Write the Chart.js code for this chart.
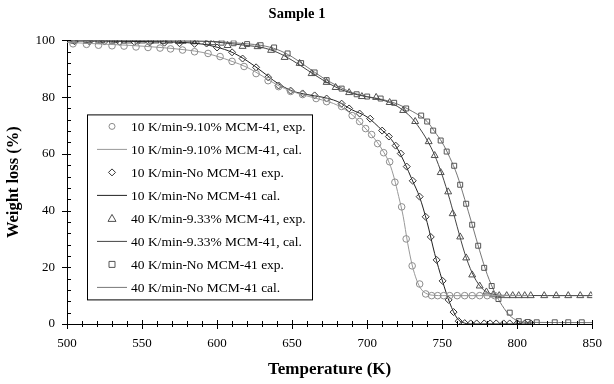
<!DOCTYPE html>
<html>
<head>
<meta charset="utf-8">
<script src="https://cdn.jsdelivr.net/npm/chart.js"></script>
<style>
  html, body { margin: 0; padding: 0; background: #fff; }
  #wrap { width: 614px; height: 384px; }
</style>
</head>
<body>
<div id="wrap"><canvas id="tgaChart"></canvas></div>

<script>
    // tick labels / axis ranges
    const xTicks = [500, 550, 600, 650, 700, 750, 800, 850];
    const yTicks = [0, 20, 40, 60, 80, 100];

    // series labels
    const seriesLabels = [
        '10 K/min-9.10% MCM-41, exp.',
        '10 K/min-9.10% MCM-41, cal.',
        '10 K/min-No MCM-41 exp.',
        '10 K/min-No MCM-41 cal.',
        '40 K/min-9.33% MCM-41, exp.',
        '40 K/min-9.33% MCM-41, cal.',
        '40 K/min-No MCM-41 exp.',
        '40 K/min-No MCM-41 cal.'
    ];

    // 10 K/min, 9.10% MCM-41 (circles)
    const exp1T = [504, 513, 521, 530, 538, 546, 554, 562, 569, 577, 585, 594, 602, 610, 618, 626, 634, 641, 649, 657, 666, 673, 683, 690, 695, 699, 703, 707, 711, 715, 718.5, 723, 726, 730, 735, 739, 743, 747, 751, 755, 760, 765, 770, 775, 780, 785];
    const exp1W = [98.8, 98.6, 98.3, 98.1, 98, 97.7, 97.5, 97.3, 97, 96.6, 96, 95.4, 94.3, 92.6, 90.8, 88.3, 85.8, 83.7, 82, 80.9, 79.5, 78.4, 76.7, 73.5, 71.4, 68.9, 66.8, 63.6, 60.4, 57.2, 50, 41.3, 30, 20.5, 14.1, 10.6, 10, 10, 10, 10, 10, 10, 10, 10, 10, 10];
    const cal1T = [500, 520, 540, 560, 580, 590, 600, 610, 620, 630, 640, 650, 660, 670, 680, 690, 700, 705, 710, 715, 718, 721, 724, 727, 730, 733, 736, 740, 745, 750, 810];
    const cal1W = [99.3, 98.8, 98.3, 97.6, 96.6, 95.8, 94.4, 92.6, 90.5, 87.5, 84.3, 82.0, 80.4, 79.0, 77.2, 73.8, 68.3, 65.3, 61.5, 56.5, 51.5, 45, 38, 28.5, 20.8, 15.5, 12.3, 10.6, 10.1, 10, 10];

    // 10 K/min, no MCM-41 (diamonds)
    const exp2T = [505, 515, 525, 535, 545, 555, 565, 575, 585, 593, 600, 610, 617, 626, 634, 641, 649, 657, 665, 673, 683, 688, 695, 702, 710, 714.5, 719, 722.4, 726.4, 730.4, 735, 739, 742.4, 746.3, 750.3, 754.3, 757.6, 761, 765, 769, 773, 778, 782, 786, 791, 795, 800, 805, 809];
    const exp2W = [99.7, 99.6, 99.6, 99.5, 99.4, 99.3, 99.2, 99, 98.8, 98.9, 97.5, 95.8, 93.6, 90.5, 87, 84.1, 82.3, 81.3, 80.6, 79.5, 77.7, 76, 74.2, 72.4, 68.2, 66.1, 62.9, 60.1, 55.5, 50.5, 44.9, 37.8, 30.7, 22.6, 15.2, 8.5, 4.2, 1, 0.3, 0.2, 0.2, 0.2, 0.2, 0.2, 0.2, 0.2, 0.2, 0.2, 0.2];
    const cal2T = [500, 550, 580, 590, 600, 610, 620, 630, 640, 650, 660, 670, 680, 690, 700, 710, 715, 720, 725, 730, 735, 740, 745, 750, 755, 760, 765, 770, 810];
    const cal2W = [99.8, 99.6, 99.2, 98.7, 97.6, 95.8, 92.8, 89, 85, 82.2, 80.9, 80, 78.5, 75.5, 73, 68.3, 65.8, 62, 56.8, 50.8, 44.7, 35.8, 24.8, 15.5, 7.5, 2, 0.3, 0, 0];

    // 40 K/min, 9.33% MCM-41 (triangles)
    const exp3T = [505, 514, 523, 532, 541, 550, 559, 568, 577, 586, 597, 607, 617, 627, 636, 645, 655, 663, 673, 679, 688, 696.5, 706, 715, 724, 732, 741, 745, 749, 754, 757, 762, 766, 770, 775, 779.5, 784, 788, 793, 797, 801, 805, 809, 818, 826, 834, 842, 849];
    const exp3W = [99.9, 99.9, 99.9, 99.9, 99.8, 99.8, 99.8, 99.8, 99.7, 99.6, 99.2, 98.2, 97.9, 97.8, 96.5, 94, 91.9, 88.3, 85.2, 83.4, 81.6, 80.2, 79.9, 78.1, 75.3, 71.4, 64.3, 59.4, 53.4, 46.6, 38.9, 30.7, 23.3, 17.3, 13.4, 11.3, 10.3, 10, 10, 10, 10, 10, 10, 10, 10, 10, 10, 10];
    const cal3T = [500, 590, 600, 610, 620, 630, 640, 650, 660, 670, 680, 690, 700, 710, 720, 730, 735, 740, 745, 750, 755, 760, 765, 770, 775, 780, 785, 790, 850];
    const cal3W = [100, 99.8, 99.4, 98.8, 98.2, 97.5, 95.8, 93, 89.6, 86.2, 83.3, 81.3, 80.1, 79, 76.8, 72.5, 69, 64.8, 59.5, 52.5, 44, 34.3, 25, 18, 13.5, 11.2, 10.4, 10.1, 10];

    // 40 K/min, no MCM-41 (squares)
    const exp4T = [504, 513, 521, 530, 538, 547, 556, 564, 574, 584, 594, 603, 611, 620, 629, 638, 647, 656, 665, 673, 683, 693, 700, 709, 718, 726, 736, 740, 744, 749, 753, 758, 762, 766, 770, 774, 778, 783, 787.5, 795, 801, 807, 813, 825, 834, 843];
    const exp4W = [99.9, 99.9, 99.9, 99.9, 99.9, 99.9, 99.9, 99.8, 99.8, 99.7, 99.5, 99.2, 99, 98.7, 98.3, 97.5, 95.4, 92, 88.7, 86, 83, 81, 80.2, 79.5, 78, 76, 73.5, 71.4, 68.2, 64.7, 60.8, 55.8, 49.1, 42.4, 35, 27.6, 19.8, 13.4, 8.8, 4, 1, 0.7, 0.6, 0.6, 0.6, 0.6];
    const cal4T = [500, 600, 610, 620, 630, 640, 650, 660, 670, 680, 690, 700, 710, 720, 730, 740, 745, 750, 755, 760, 765, 770, 775, 780, 785, 790, 795, 800, 805, 850];
    const cal4W = [100, 99.6, 99.2, 98.8, 98.2, 96.8, 94.2, 90.6, 87, 84, 81.6, 80.2, 79.2, 77.6, 75, 71.4, 67.8, 64, 58.8, 52.5, 44, 35, 25.8, 17.5, 11.2, 6.5, 3, 1.2, 0.6, 0.5];

    const pts = (t, w) => t.map((v, i) => ({ x: v, y: w[i] }));
    const serif = "'Liberation Serif', 'Times New Roman', serif";

    function expSet(label, t, w, style, color, r) {
        return {
            label: label, data: pts(t, w), showLine: false,
            pointStyle: style, pointRadius: r, borderColor: color,
            backgroundColor: 'rgba(0,0,0,0)', pointBorderWidth: 1
        };
    }
    function calSet(label, t, w, color) {
        return {
            label: label, data: pts(t, w), showLine: true, pointRadius: 0,
            borderColor: color, borderWidth: 1, cubicInterpolationMode: 'monotone'
        };
    }

    // legend box drawn inside the plot
    const boxLegend = {
        id: 'boxLegend',
        afterDraw(chart) {
            const ctx = chart.ctx, a = chart.chartArea;
            const x0 = a.left + 20, y0 = a.top + 74, w = 225, h = 185, row = 23;
            ctx.save();
            ctx.fillStyle = '#fff';
            ctx.fillRect(x0, y0, w, h);
            ctx.strokeStyle = '#000';
            ctx.lineWidth = 1;
            ctx.strokeRect(x0 + 0.5, y0 + 0.5, w, h);
            ctx.font = '13.5px ' + serif;
            ctx.textBaseline = 'middle';
            chart.data.datasets.forEach((ds, i) => {
                const cy = y0 + 12 + i * row;
                const mx = x0 + 25;
                ctx.strokeStyle = ds.borderColor;
                ctx.lineWidth = 1;
                ctx.beginPath();
                if (ds.showLine) {
                    ctx.moveTo(x0 + 10, cy);
                    ctx.lineTo(x0 + 40, cy);
                } else if (ds.pointStyle === 'circle') {
                    ctx.arc(mx, cy, 3, 0, Math.PI * 2);
                } else if (ds.pointStyle === 'rectRot') {
                    ctx.moveTo(mx, cy - 3.5); ctx.lineTo(mx + 3.5, cy);
                    ctx.lineTo(mx, cy + 3.5); ctx.lineTo(mx - 3.5, cy); ctx.closePath();
                } else if (ds.pointStyle === 'triangle') {
                    ctx.moveTo(mx, cy - 4); ctx.lineTo(mx + 4, cy + 3);
                    ctx.lineTo(mx - 4, cy + 3); ctx.closePath();
                } else {
                    ctx.rect(mx - 3, cy - 3, 6, 6);
                }
                ctx.stroke();
                ctx.fillStyle = '#000';
                ctx.fillText(ds.label, x0 + 44, cy + 1);
            });
            ctx.restore();
        }
    };

    // major and minor tick marks crossing the axes
    const axisTicks = {
        id: 'axisTicks',
        afterDraw(chart) {
            const ctx = chart.ctx, xs = chart.scales.x, ys = chart.scales.y;
            const a = chart.chartArea;
            ctx.save();
            ctx.strokeStyle = '#000';
            ctx.lineWidth = 1;
            ctx.beginPath();
            for (let v = 500; v <= 850; v += 10) {
                const px = Math.round(xs.getPixelForValue(v)) + 0.5;
                const major = v % 50 === 0;
                ctx.moveTo(px, a.bottom - (major ? 4 : 3));
                ctx.lineTo(px, a.bottom + (major ? 5 : 3));
            }
            for (let v = 0; v <= 100; v += 4) {
                const py = Math.round(ys.getPixelForValue(v)) + 0.5;
                const major = v % 20 === 0;
                ctx.moveTo(a.left - (major ? 5 : 0), py);
                ctx.lineTo(a.left + 4, py);
            }
            ctx.stroke();
            ctx.restore();
        }
    };

    const ctx = document.getElementById('tgaChart');
    new Chart(ctx, {
        type: 'scatter',
        data: {
            datasets: [
                expSet(seriesLabels[0], exp1T, exp1W, 'circle', '#8c8c8c', 3.3),
                calSet(seriesLabels[1], cal1T, cal1W, '#999999'),
                expSet(seriesLabels[2], exp2T, exp2W, 'rectRot', '#333333', 3.5),
                calSet(seriesLabels[3], cal2T, cal2W, '#222222'),
                expSet(seriesLabels[4], exp3T, exp3W, 'triangle', '#505050', 4),
                calSet(seriesLabels[5], cal3T, cal3W, '#444444'),
                expSet(seriesLabels[6], exp4T, exp4W, 'rect', '#555555', 3.5),
                calSet(seriesLabels[7], cal4T, cal4W, '#777777')
            ]
        },
        options: {
            responsive: true,
            maintainAspectRatio: false,
            animation: false,
            layout: { padding: { top: 4, right: 20, left: 0, bottom: 0 } },
            plugins: {
                legend: { display: false },
                tooltip: { enabled: false },
                title: {
                    display: true,
                    text: 'Sample 1',
                    color: '#000',
                    font: { family: serif, size: 14.5, weight: 'bold' },
                    padding: { top: 2, bottom: 17 }
                }
            },
            scales: {
                x: {
                    type: 'linear', min: 500, max: 850,
                    afterBuildTicks: s => { s.ticks = xTicks.map(v => ({ value: v })); },
                    afterFit: s => { s.height = 60; },
                    grid: { display: true, drawOnChartArea: false, drawTicks: false },
                    border: { display: true, color: '#000', width: 1 },
                    ticks: { color: '#000', padding: 12, font: { family: serif, size: 13 } },
                    title: { display: true, text: 'Temperature (K)', color: '#000', padding: { top: 4 },
                             font: { family: serif, size: 17, weight: 'bold' } }
                },
                y: {
                    min: 0, max: 100,
                    afterBuildTicks: s => { s.ticks = yTicks.map(v => ({ value: v })); },
                    afterFit: s => { s.width = 67; },
                    grid: { display: true, drawOnChartArea: false, drawTicks: false },
                    border: { display: true, color: '#000', width: 1 },
                    ticks: { color: '#000', padding: 12, font: { family: serif, size: 13 } },
                    title: { display: true, text: 'Weight loss (%)', color: '#000', padding: { bottom: 6 },
                             font: { family: serif, size: 16.5, weight: 'bold' } }
                }
            }
        },
        plugins: [boxLegend, axisTicks]
    });
</script>
</body>
</html>
